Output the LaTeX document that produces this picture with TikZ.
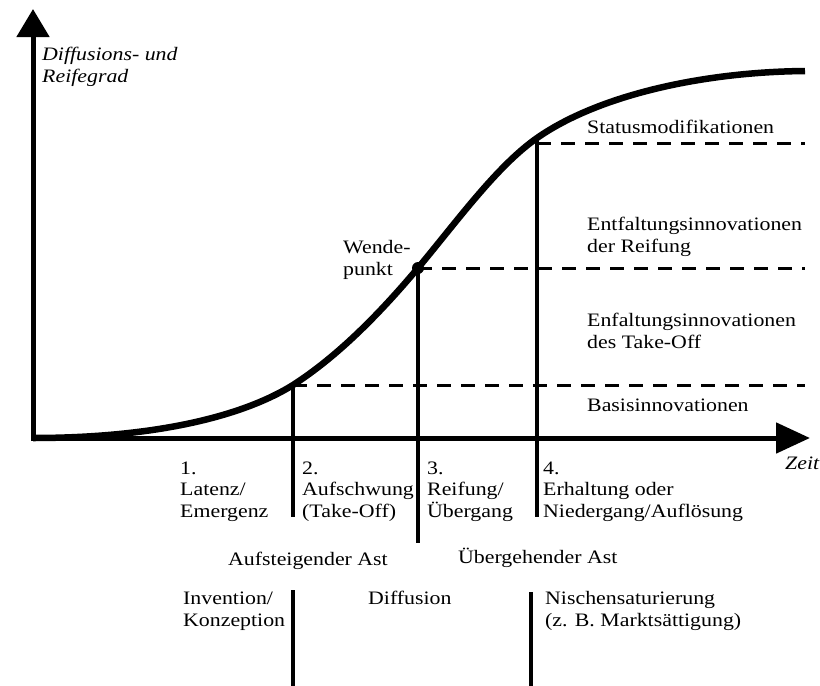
\documentclass[tikz,border=0pt]{standalone}
\usepackage{fontspec}
\setmainfont{Liberation Serif}[FakeStretch=1.15]
\usetikzlibrary{arrows.meta}

\begin{document}
\begin{tikzpicture}[x=1pt, y=-1pt,
    axis/.style={line width=5pt, line join=miter, {Triangle[length=28pt,width=32pt]}-{Triangle[length=34pt,width=30pt]}},
    phase/.style={line width=3.5pt},
    level/.style={line width=3pt, dash pattern=on 14pt off 10pt},
    lbl/.style={anchor=base west, inner sep=0pt, align=left, font=\fontsize{19}{21.5}\selectfont},
    ilbl/.style={lbl, font=\fontsize{19}{21.5}\selectfont\itshape}]
  \useasboundingbox (0,0) rectangle (820,686);

  % axes
  \coordinate (ytip) at (33,9);
  \coordinate (o) at (33,438);
  \coordinate (xtip) at (810,438);
  \draw[axis] (ytip) -- (o) -- (xtip);
  \node[ilbl] (ylab) at (42,82) {Diffusions- und\\Reifegrad};
  \node[ilbl] (xlab) at (785,469) {Zeit};

  % curve points
  \coordinate (p1) at (293,385);
  \coordinate (wp) at (418,268);
  \coordinate (p3) at (537,138);
  \coordinate (top) at (805,71);

  % S-curve
  \draw[line width=6.5pt] (o) .. controls (150,438) and (240,418) .. (p1)
    .. controls (335,358) and (376,318) .. (wp)
    .. controls (458,220) and (497,166) .. (p3)
    .. controls (597,96) and (700,72) .. (top);
  \fill (wp) circle (6pt);
  \node[lbl] (wende) at (343,275) {Wende-\\punkt};

  % levels
  \foreach \pt/\y in {p1/385, wp/268, p3/143} {
    \coordinate (r\pt) at (805,\y);
    \draw[level] (\pt |- r\pt) -- (r\pt);
  }
  \node[lbl] (status) at (587,133) {Statusmodifikationen};
  \node[lbl] (reif) at (587,252) {Entfaltungsinnovationen\\der Reifung};
  \node[lbl] (take) at (587,348) {Enfaltungsinnovationen\\des Take-Off};
  \node[lbl] (basis) at (587,411) {Basisinnovationen};

  % phase lines
  \coordinate (b1) at (293,517);
  \coordinate (b2) at (418,543);
  \coordinate (b3) at (537,517);
  \draw[phase] (p1) -- (b1);
  \draw[phase] (wp) -- (b2);
  \draw[phase] (p3) -- (b3);

  % phases
  \node[lbl] (ph1) at (180,517) {1.\\Latenz/\\Emergenz};
  \node[lbl] (ph2) at (302,517) {2.\\Aufschwung\\(Take-Off)};
  \node[lbl] (ph3) at (427,517) {3.\\Reifung/\\Übergang};
  \node[lbl] (ph4) at (543,517) {4.\\Erhaltung oder\\Niedergang/Auflösung};

  \node[lbl] (auf) at (228,565) {Aufsteigender Ast};
  \node[lbl] (ueber) at (458,563) {Übergehender Ast};

  % lower part
  \coordinate (t1) at (293,590);
  \coordinate (u1) at (293,686);
  \coordinate (t2) at (531,592);
  \coordinate (u2) at (531,686);
  \draw[phase] (t1) -- (u1);
  \draw[phase] (t2) -- (u2);
  \node[lbl] (inv) at (183,626) {Invention/\\Konzeption};
  \node[lbl] (diff) at (368,604) {Diffusion};
  \node[lbl] (nische) at (545,626) {Nischensaturierung\\(z. B. Marktsättigung)};
\end{tikzpicture}
\end{document}
